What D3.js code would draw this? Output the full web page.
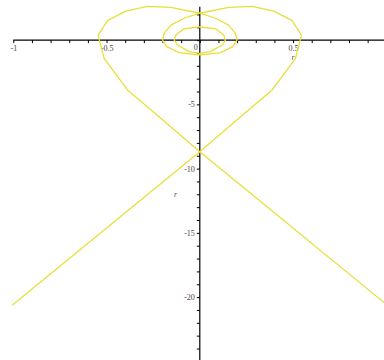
<!DOCTYPE html>
<html><head><meta charset="utf-8">
<script src="https://cdn.jsdelivr.net/npm/d3@7"></script>
<style>body{margin:0;background:#fff}svg{display:block}</style>
</head><body>
<script>
// Outer curve (one continuous path), data coordinates
const outerX = [-1.006, 0, 0.272, 0.388, 0.513, 0.545, 0.495, 0.397, 0.281, 0.155, 0, -0.155, -0.281, -0.397, -0.495, -0.545, -0.513, -0.388, -0.272, 0, 1.006];
const outerY = [-20.64, -8.68, -5.31, -3.88, -1.42, 0.37, 1.51, 2.26, 2.63, 2.55, 2.09, 2.55, 2.63, 2.26, 1.51, 0.37, -1.42, -3.88, -5.31, -8.68, -20.64];
// Middle loop
const midX = [0, 0.084, 0.155, 0.191, 0.200, 0.177, 0.111, 0.030, 0, -0.030, -0.111, -0.177, -0.200, -0.191, -0.155, -0.084, 0];
const midY = [2.09, 1.70, 1.17, 0.53, 0.01, -0.51, -0.98, -1.11, -1.14, -1.11, -0.98, -0.51, 0.01, 0.53, 1.17, 1.70, 2.09];
// Small inner loop
const smallX = [0, 0.085, 0.128, 0.137, 0.120, 0.057, 0, -0.057, -0.120, -0.137, -0.128, -0.085, 0];
const smallY = [1.04, 0.88, 0.40, 0.0, -0.38, -0.90, -1.03, -0.90, -0.38, 0.0, 0.40, 0.88, 1.04];
// Tick labels
const xTickLabels = [-1, -0.5, 0.5];
const yTickLabels = [-5, -10, -15, -20];

const W = 384, H = 360;
const svg = d3.select("body").append("svg").attr("width", W).attr("height", H);
const x = d3.scaleLinear().domain([-1, 1]).range([13.3, 386.3]);
const y = d3.scaleLinear().domain([0, -20]).range([40.1, 297.1]);

const font = "'Liberation Serif', 'DejaVu Serif', serif";

// x axis
const xTicks = d3.range(-10, 11).map(i => i / 10);
const xAxis = d3.axisBottom(x).tickValues(xTicks).tickSize(3).tickPadding(2)
  .tickFormat(d => xTickLabels.some(v => Math.abs(v - d) < 1e-9) ? String(d) : "");
const gx = svg.append("g").attr("transform", `translate(0,${y(0)})`).call(xAxis);
gx.select(".domain").remove();
gx.selectAll(".tick line").attr("stroke", "#000");
gx.selectAll(".tick text").attr("font-family", font).attr("font-size", 8).attr("fill", "#444");
svg.append("line").attr("x1", x(-1)).attr("x2", W).attr("y1", y(0)).attr("y2", y(0))
  .attr("stroke", "#000").attr("stroke-width", 1.2);

// y axis
const yTicks = d3.range(-24, 3);
const yAxis = d3.axisLeft(y).tickValues(yTicks).tickSize(3).tickPadding(2)
  .tickFormat(d => yTickLabels.includes(d) ? String(d) : "");
const gy = svg.append("g").attr("transform", `translate(${x(0)},0)`).call(yAxis);
gy.select(".domain").remove();
gy.selectAll(".tick line").attr("stroke", "#000");
gy.selectAll(".tick text").attr("font-family", font).attr("font-size", 8).attr("fill", "#444");
svg.append("line").attr("x1", x(0)).attr("x2", x(0)).attr("y1", y(2.6)).attr("y2", H)
  .attr("stroke", "#000").attr("stroke-width", 1.2);

// origin label and axis titles
svg.append("text").attr("x", x(0) - 2).attr("y", y(0) + 10).attr("text-anchor", "end")
  .attr("font-family", font).attr("font-size", 8).attr("fill", "#444").text("0");
svg.append("text").attr("x", x(0.5)).attr("y", y(0) + 20).attr("text-anchor", "middle")
  .attr("font-family", font).attr("font-style", "italic").attr("font-size", 8).attr("fill", "#555").text("r");
svg.append("text").attr("x", x(-0.13)).attr("y", y(-12.2)).attr("text-anchor", "middle")
  .attr("font-family", font).attr("font-style", "italic").attr("font-size", 8).attr("fill", "#555").text("r");

// curves
const line = d3.line().x(d => x(d[0])).y(d => y(d[1]));
const curves = [d3.zip(outerX, outerY), d3.zip(midX, midY), d3.zip(smallX, smallY)];
svg.selectAll("path.curve").data(curves).join("path").attr("class", "curve")
  .attr("d", line).attr("fill", "none").attr("stroke", "#e6e03a").attr("stroke-width", 1.3)
  .attr("stroke-linejoin", "round");
</script>
</body></html>
